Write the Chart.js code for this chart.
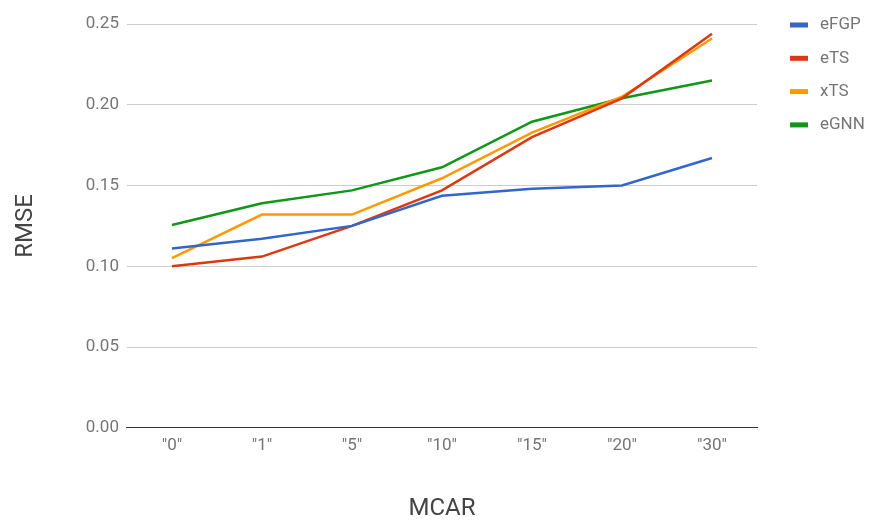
<!DOCTYPE html>
<html>
<head>
<meta charset="utf-8">
<script src="https://cdn.jsdelivr.net/npm/chart.js@4"></script>
<style>
  html, body { margin: 0; padding: 0; background: #fff; }
  #wrap { width: 872px; height: 523px; }
</style>
</head>
<body>
<div id="wrap"><canvas id="rmseChart" width="872" height="523"></canvas></div>
<script>
const categories = ['"0"', '"1"', '"5"', '"10"', '"15"', '"20"', '"30"'];
const efgp = [0.111, 0.117, 0.125, 0.1436, 0.148, 0.150, 0.167];
const ets  = [0.100, 0.106, 0.125, 0.147, 0.180, 0.204, 0.244];
const xts  = [0.105, 0.132, 0.132, 0.1545, 0.1827, 0.205, 0.241];
const egnn = [0.1256, 0.139, 0.147, 0.1613, 0.1895, 0.204, 0.215];

function series(label, data, color) {
    return {
        label,
        data,
        borderColor: color,
        backgroundColor: color,
        borderWidth: 2.5,
        pointRadius: 0,
        tension: 0,
        fill: false
    };
}

// legend drawn to the right of the plot, like the google chart one
const sideLegend = {
    id: 'sideLegend',
    afterDraw(chart) {
        const c = chart.ctx;
        c.save();
        c.font = '17px Roboto';
        c.textBaseline = 'middle';
        c.textAlign = 'left';
        chart.data.datasets.forEach((ds, i) => {
            const y = 25 + i * 33.3;
            c.fillStyle = ds.borderColor;
            c.fillRect(790, y - 2.5, 18, 5);
            c.fillStyle = '#757575';
            c.fillText(ds.label, 820, y);
        });
        c.restore();
    }
};

const ctx = document.getElementById('rmseChart').getContext('2d');
new Chart(ctx, {
    type: 'line',
    data: {
        labels: categories,
        datasets: [
            series('eFGP', efgp, '#3366cc'),
            series('eTS', ets, '#dc3912'),
            series('xTS', xts, '#ff9900'),
            series('eGNN', egnn, '#109618')
        ]
    },
    plugins: [sideLegend],
    options: {
        responsive: false,
        animation: false,
        layout: { padding: { top: 24, right: 115, bottom: 0, left: 12 } },
        plugins: {
            legend: { display: false },
            tooltip: { enabled: false }
        },
        scales: {
            x: {
                offset: true,
                grid: { display: false, drawTicks: false },
                border: { color: '#333333', width: 1 },
                ticks: { color: '#757575', font: { family: 'Roboto', size: 17 }, padding: 8 },
                title: {
                    display: true,
                    text: 'MCAR',
                    color: '#444444',
                    font: { family: 'Roboto', size: 24 },
                    padding: { top: 30, bottom: 0 }
                }
            },
            y: {
                min: 0,
                max: 0.25,
                ticks: {
                    stepSize: 0.05,
                    color: '#757575',
                    font: { family: 'Roboto', size: 17 },
                    padding: 8,
                    callback: v => v.toFixed(2)
                },
                grid: { color: '#cccccc', drawTicks: false },
                border: { display: false },
                title: {
                    display: true,
                    text: 'RMSE',
                    color: '#444444',
                    font: { family: 'Roboto', size: 24 },
                    padding: { top: 0, bottom: 37 }
                }
            }
        }
    }
});
</script>
</body>
</html>
